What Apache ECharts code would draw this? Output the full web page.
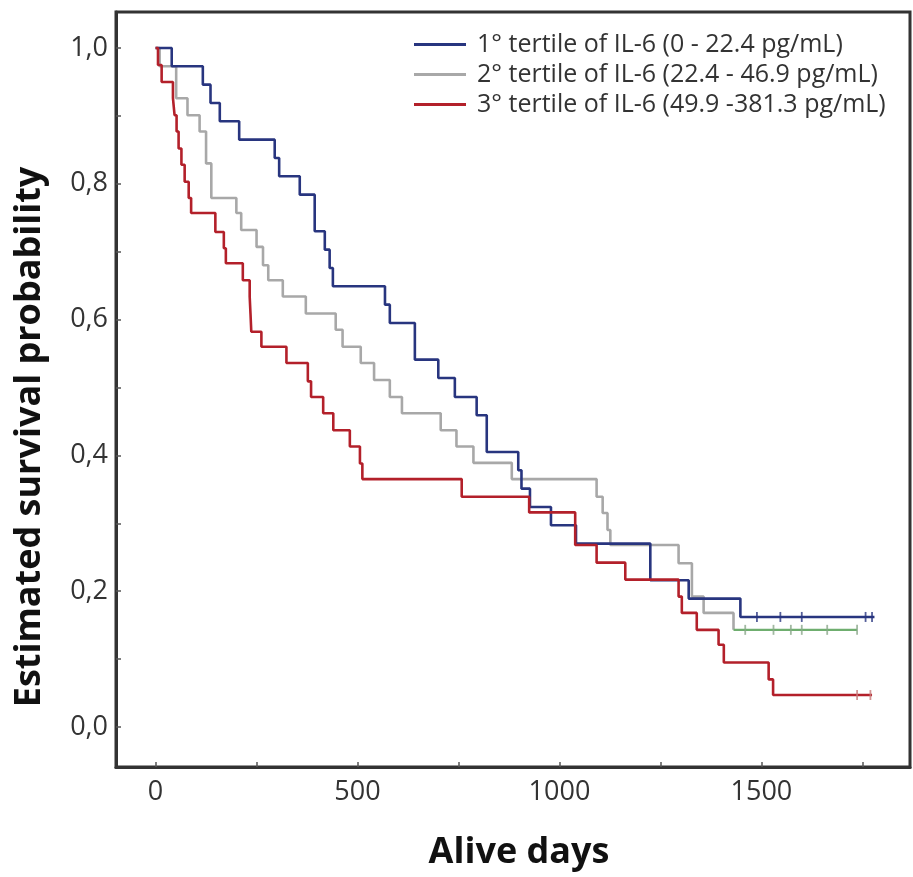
<!DOCTYPE html>
<html><head><meta charset="utf-8">
<script src="https://cdn.jsdelivr.net/npm/echarts@6/dist/echarts.min.js"></script>
<style>html,body{margin:0;padding:0;background:#fff}#c{width:913px;height:877px}</style>
</head><body><div id="c"></div>
<script>
const seriesNames = ['1° tertile of IL-6 (0 - 22.4 pg/mL)', '2° tertile of IL-6 (22.4 - 46.9 pg/mL)', '3° tertile of IL-6 (49.9 -381.3 pg/mL)'];
const xTickLabels = [0, 500, 1000, 1500];
const xMinorTicks = [0, 250, 500, 750, 1000, 1250, 1500, 1750];
const yTickLabels = [0, 0.2, 0.4, 0.6, 0.8, 1.0];
const yMinorTicks = [0, 0.1, 0.2, 0.3, 0.4, 0.5, 0.6, 0.7, 0.8, 0.9, 1.0];

// [day, survival] — value holds from that day onward
const tertile1 = [[0,1.0],[40,0.973],[117,0.946],[136,0.919],[159,0.892],[207,0.865],[295,0.838],[306,0.811],[357,0.784],[394,0.730],[419,0.703],[431,0.676],[439,0.649],[568,0.622],[580,0.595],[642,0.541],[700,0.514],[741,0.486],[795,0.459],[820,0.405],[898,0.378],[906,0.351],[927,0.324],[979,0.297],[1041,0.270],[1225,0.216],[1320,0.189],[1448,0.162],[1780,0.162]];
const tertile2 = [[0,1.0],[10,0.973],[51,0.926],[79,0.901],[109,0.877],[125,0.830],[138,0.779],[200,0.757],[212,0.732],[250,0.707],[266,0.680],[279,0.658],[315,0.634],[372,0.609],[446,0.585],[463,0.560],[508,0.536],[541,0.511],[580,0.486],[610,0.462],[706,0.437],[745,0.413],[787,0.389],[882,0.365],[1092,0.339],[1107,0.315],[1119,0.290],[1126,0.268],[1295,0.241],[1328,0.192],[1357,0.168],[1431,0.143]];
const tertile2Tail = [[1431,0.143],[1737,0.143]];
const tertile3 = [[0,1.0],[6,0.975],[15,0.950],[43,0.926],[47,0.901],[52,0.877],[57,0.852],[64,0.828],[72,0.803],[82,0.779],[88,0.757],[148,0.729],[169,0.705],[174,0.683],[216,0.658],[233,0.634],[235,0.609],[237,0.582],[262,0.560],[324,0.536],[377,0.509],[385,0.486],[415,0.462],[440,0.437],[481,0.413],[506,0.388],[512,0.365],[758,0.339],[925,0.316],[1039,0.268],[1092,0.242],[1163,0.217],[1295,0.192],[1303,0.168],[1340,0.143],[1394,0.121],[1407,0.095],[1518,0.070],[1529,0.047],[1774,0.047]];
const censor1 = [[1489,0.162],[1547,0.162],[1600,0.162],[1758,0.162],[1774,0.162]];
const censor2 = [[1460,0.143],[1530,0.143],[1573,0.143],[1600,0.143],[1663,0.143],[1737,0.143]];
const censor3 = [[1737,0.047],[1770,0.047]];

const C1 = '#28357f', C2 = '#a8a8a8', C3 = '#b3202a', CG = '#6fae6f';
const F = "'Open Sans', 'DejaVu Sans', sans-serif";

const chart = echarts.init(document.getElementById('c'), null, {renderer: 'canvas'});
const lineSeries = (name, data, color, z) => ({
  name, type: 'line', step: 'end', data, symbol: 'none', z,
  lineStyle: {color, width: 2.6}, itemStyle: {color}, animation: false
});
const censorSeries = (data, color) => ({
  type: 'scatter', data, symbol: 'rect', symbolSize: [1.8, 10], z: 5,
  itemStyle: {color}, animation: false, silent: true
});
chart.setOption({
  animation: false,
  backgroundColor: '#fff',
  grid: {left: 116, right: 3, top: 12, bottom: 110, show: true, borderColor: '#333', borderWidth: 3, backgroundColor: 'transparent'},
  legend: {
    orient: 'vertical', left: 409, top: 27, itemWidth: 52, itemHeight: 3, itemGap: 5, icon: 'rect',
    data: seriesNames,
    textStyle: {fontSize: 25, fontFamily: F, color: '#333', padding: [0, 0, 0, 6]}
  },
  xAxis: {
    type: 'value', min: -98, max: 1868,
    axisLine: {show: true, onZero: false, lineStyle: {color: '#333', width: 3}},
    axisTick: {show: true, inside: true, length: 5, customValues: xMinorTicks, lineStyle: {color: '#555', width: 1.5}},
    axisLabel: {customValues: xTickLabels, fontSize: 27, fontFamily: F, color: '#333', margin: 12,
      formatter: v => String(v)},
    splitLine: {show: false}
  },
  yAxis: {
    type: 'value', min: -0.059, max: 1.053,
    axisLine: {show: true, onZero: false, lineStyle: {color: '#333', width: 3}},
    axisTick: {show: true, inside: true, length: 5, customValues: yMinorTicks, lineStyle: {color: '#555', width: 1.5}},
    axisLabel: {customValues: yTickLabels, fontSize: 27, fontFamily: F, color: '#333', margin: 8,
      formatter: v => v.toFixed(1).replace('.', ',')},
    splitLine: {show: false}
  },
  graphic: [
    {type: 'text', x: 30, y: 437, rotation: Math.PI / 2, z: 10,
      style: {text: 'Estimated survival probability', font: "bold 36px 'Open Sans', sans-serif", fill: '#111', textAlign: 'center', textVerticalAlign: 'middle'}},
    {type: 'text', x: 519, y: 853, z: 10,
      style: {text: 'Alive days', font: "bold 36px 'Open Sans', sans-serif", fill: '#111', textAlign: 'center', textVerticalAlign: 'middle'}}
  ],
  series: [
    lineSeries(seriesNames[1], tertile2, C2, 2),
    {type: 'line', step: 'end', data: tertile2Tail, symbol: 'none', z: 2, lineStyle: {color: CG, width: 2.4}, animation: false, silent: true},
    lineSeries(seriesNames[0], tertile1, C1, 3),
    lineSeries(seriesNames[2], tertile3, C3, 4),
    censorSeries(censor1, C1),
    censorSeries(censor2, '#8aa88a'),
    censorSeries(censor3, '#c77b7b')
  ]
});
</script></body></html>
